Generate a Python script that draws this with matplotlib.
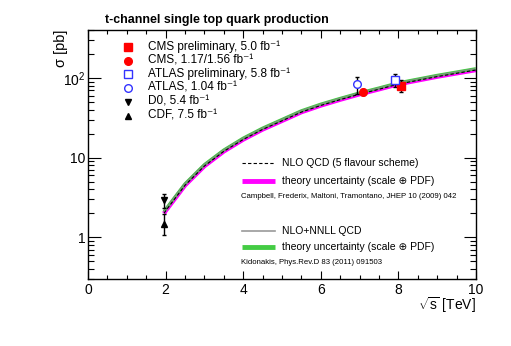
import matplotlib
matplotlib.use('Agg')
import matplotlib.pyplot as plt
from matplotlib.ticker import FixedLocator, FixedFormatter, MultipleLocator, NullFormatter

plt.rcParams['font.family'] = ['Liberation Sans', 'DejaVu Sans']
plt.rcParams['mathtext.fontset'] = 'custom'
plt.rcParams['mathtext.rm'] = 'Liberation Sans'
plt.rcParams['mathtext.it'] = 'Liberation Sans:italic'

# theory curves (pb) vs sqrt(s) (TeV)
sqrt_s = [1.96, 2.0, 2.5, 3.0, 3.5, 4.0, 4.5, 5.0, 5.5, 6.0, 6.5, 7.0, 7.5, 8.0, 9.0, 10.0]
nnll = [2.1, 2.25, 4.7, 8.2, 12.5, 17.6, 23.5, 30.2, 38.8, 47, 55.5, 65, 75, 87, 108, 131]
nlo = [2.0, 2.15, 4.5, 7.85, 12.0, 16.9, 22.6, 29.0, 37.3, 45.2, 53.5, 62.6, 72.2, 83.8, 104, 126]

# measurements: sqrt(s), sigma, err_down, err_up
cms_prel = (8.07, 80.1, 13.0, 13.0)
cms = (7.08, 67.2, 6.1, 6.1)
atlas_prel = (7.92, 95.0, 18.0, 18.0)
atlas = (6.93, 83.0, 20.0, 20.0)
d0 = (1.96, 2.90, 0.59, 0.59)
cdf = (1.96, 1.49, 0.42, 0.47)

labels = ['CMS preliminary, 5.0 fb\u207b\u00b9', 'CMS, 1.17/1.56 fb\u207b\u00b9',
          'ATLAS preliminary, 5.8 fb\u207b\u00b9', 'ATLAS, 1.04 fb\u207b\u00b9',
          'D0, 5.4 fb\u207b\u00b9', 'CDF, 7.5 fb\u207b\u00b9']

fig = plt.figure(figsize=(5.11, 3.46), dpi=100)
ax = fig.add_axes([88/511, 1-279/346, 388/511, 249/346])

ax.plot(sqrt_s, nlo, color='#ff00ff', lw=3.2, solid_capstyle='butt', zorder=2)
ax.plot(sqrt_s, nnll, color='#44cc44', lw=2.2, solid_capstyle='butt', zorder=3)
ax.plot(sqrt_s, nnll, color='#888888', lw=0.8, zorder=4)
ax.plot(sqrt_s, nlo, color='black', lw=0.8, ls=(0, (3, 2)), zorder=5)

styles = [
    (cms_prel, dict(marker='s', color='red', mfc='red', ms=5.5)),
    (cms, dict(marker='o', color='red', mfc='red', ms=5.5)),
    (atlas_prel, dict(marker='s', color='#3333ff', mfc='white', ms=5.5, mew=1)),
    (atlas, dict(marker='o', color='#3333ff', mfc='white', ms=5.5, mew=1)),
    (d0, dict(marker='v', color='black', mfc='black', ms=4.5)),
    (cdf, dict(marker='^', color='black', mfc='black', ms=4.5)),
]

def fx(px):
    return (px - 88) / 388

def fy(py):
    return (279 - py) / 249

tr = ax.transAxes
row_y = [47, 60.5, 74, 88, 101.5, 115.5]
for ((x, y, dn, up), st), lab, ry in zip(styles, labels, row_y):
    ax.errorbar([x], [y], yerr=[[dn], [up]], fmt='none', ecolor='black',
                elinewidth=1, capsize=1.5, capthick=1, zorder=6)
    ax.plot([x], [y], ls='none', zorder=7, **st)
    # legend entry
    ax.plot([fx(128)], [fy(ry)], ls='none', transform=tr, **st)
    ax.text(fx(148), fy(ry), lab, transform=tr, fontsize=8.5, va='center')

# theory legend block
ax.plot([fx(242), fx(275)], [fy(163)] * 2, transform=tr, color='black', lw=0.8, ls=(0, (3, 2)))
ax.text(fx(282), fy(163), 'NLO QCD (5 flavour scheme)', transform=tr, fontsize=7.5, va='center')
ax.plot([fx(242), fx(275)], [fy(181)] * 2, transform=tr, color='#ff00ff', lw=3.5, solid_capstyle='butt')
ax.text(fx(282), fy(181), 'theory uncertainty (scale \u2295 PDF)', transform=tr, fontsize=7.5, va='center')
ax.text(fx(241), fy(196), 'Campbell, Frederix, Maltoni, Tramontano, JHEP 10 (2009) 042',
        transform=tr, fontsize=5.6, va='center')
ax.plot([fx(242), fx(275)], [fy(231)] * 2, transform=tr, color='#999999', lw=1.2)
ax.text(fx(282), fy(231), 'NLO+NNLL QCD', transform=tr, fontsize=7.5, va='center')
ax.plot([fx(242), fx(275)], [fy(247)] * 2, transform=tr, color='#44cc44', lw=3.5, solid_capstyle='butt')
ax.text(fx(282), fy(247), 'theory uncertainty (scale \u2295 PDF)', transform=tr, fontsize=7.5, va='center')
ax.text(fx(241), fy(263), 'Kidonakis, Phys.Rev.D 83 (2011) 091503',
        transform=tr, fontsize=5.6, va='center')

ax.set_yscale('log')
ax.set_xlim(0, 10)
ax.set_ylim(0.3, 400)
ax.xaxis.set_major_locator(MultipleLocator(2))
ax.xaxis.set_minor_locator(MultipleLocator(0.5))
ax.yaxis.set_major_locator(FixedLocator([1, 10, 100]))
ax.yaxis.set_major_formatter(FixedFormatter(['1', '10', '10$^2$']))
ax.yaxis.set_minor_formatter(NullFormatter())
ax.tick_params(which='both', direction='in', top=True, right=True, labelsize=10, width=0.8)
ax.tick_params(axis='x', which='major', length=6, pad=3)
ax.tick_params(axis='x', which='minor', length=3)
ax.tick_params(axis='y', which='major', length=9, pad=2)
ax.tick_params(axis='y', which='minor', length=4.5)
for sp in ax.spines.values():
    sp.set_linewidth(1.0)

fig.text(105/511, 1-20/346, 't-channel single top quark production', fontsize=8.9,
         fontweight='bold', va='center', ha='left')
fig.text(61/511, 1-30/346, '\u03c3 [pb]', rotation=90, fontsize=10.5, ha='center', va='top')
fig.text(476/511, 1-295/346, '$\\sqrt{\\mathrm{s}}$ [TeV]', fontsize=10, ha='right', va='top')

fig.savefig('out.png', dpi=100)
